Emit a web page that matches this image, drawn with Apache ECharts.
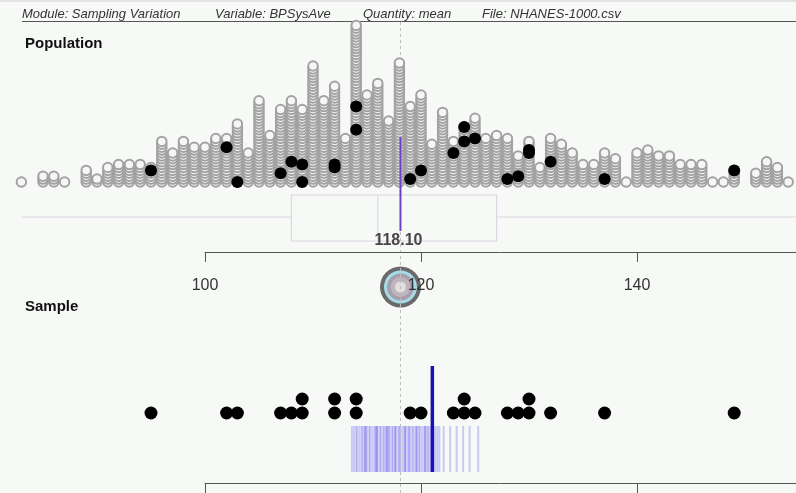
<!DOCTYPE html>
<html><head><meta charset="utf-8">
<script src="https://cdn.jsdelivr.net/npm/echarts@6/dist/echarts.min.js"></script>
<style>html,body{margin:0;padding:0;background:#f7f9f7;}#c{width:796px;height:493px;}</style>
</head><body><div id="c"></div>
<script>
// ---------- data ----------
const popValues = [83,84,85,86,87,88,89,90,91,92,93,94,95,96,97,98,99,100,101,102,103,104,105,106,107,108,109,110,111,112,113,114,115,116,117,118,119,120,121,122,123,124,125,126,127,128,129,130,131,132,133,134,135,136,137,138,139,140,141,142,143,144,145,146,147,148,149,150,151,152,153,154];
const popCounts = [1,0,3,3,1,0,5,2,6,7,7,7,6,15,11,15,13,13,16,16,21,11,29,17,26,29,26,41,29,34,16,55,31,35,22,42,27,31,14,25,15,20,23,16,17,16,10,15,6,16,14,11,7,7,11,9,1,11,12,10,10,7,7,7,1,1,5,0,4,8,6,1];
// sampled members in the population: [value, position in its column]
const sampledMembers = [[95,4],[102,12],[103,0],[107,3],[108,7],[109,6],[109,0],[112,5],[112,6],[114,26],[114,18],[119,1],[120,4],[123,10],[124,19],[124,14],[125,15],[128,1],[129,2],[130,10],[130,11],[132,7],[137,1],[149,4]];
const sampleValues = [95,102,103,107,108,109,109,112,112,114,114,119,120,123,124,124,125,128,129,130,130,132,137,149];
const popMean = 118.10;
const popBox = [83,108,116,127,156]; // min, Q1, median, Q3, max
const sampleMean = 121.05;
const pastSampleMeans = [113.6,113.8,114.0,114.1,114.3,114.5,114.6,114.8,114.8,114.9,115.0,115.2,115.3,115.5,115.7,115.8,115.9,115.9,116.0,116.2,116.3,116.5,116.6,116.8,116.8,116.9,117.0,117.1,117.3,117.4,117.6,117.6,117.7,117.9,118.0,118.1,118.3,118.5,118.5,118.6,118.8,118.9,119.0,119.2,119.3,119.5,119.6,119.6,119.8,119.9,120.1,120.3,120.4,120.4,120.6,120.7,120.9,121.1,121.1,121.3,121.5,121.7,122.1,122.7,123.3,123.9,124.5,125.3];
const axisTicks = [100,120,140];
const headerItems = ['Module: Sampling Variation','Variable: BPSysAve','Quantity: mean','File: NHANES-1000.csv'];

// ---------- build ----------
const FONT = '"Liberation Sans", Arial, sans-serif';
const popPoints = [];
popValues.forEach((v, i) => { for (let k = 0; k < popCounts[i]; k++) popPoints.push([v, k]); });
const seen = {};
const samplePoints = sampleValues.map(v => { seen[v] = (seen[v] || 0); const r = seen[v]; seen[v]++; return [v, r]; });

const L = 10.6, R = 7.8, XMIN = 82, XMAX = 154;
const hiddenX = (g) => ({type:'value', gridIndex:g, min:XMIN, max:XMAX, show:false});
const hiddenY = (g, mn, mx, inv) => ({type:'value', gridIndex:g, min:mn, max:mx, show:false, inverse: !!inv});
const shownX = (g) => ({type:'value', gridIndex:g, min:100, max:100 + 591/10.8, interval:20, z:10,
  axisLine:{show:true, lineStyle:{color:'#555', width:1}},
  axisTick:{show:true, length:10, inside:false, customValues:axisTicks, lineStyle:{color:'#555', width:1}},
  axisLabel:{show:true, margin:26, fontSize:16, color:'#333', fontFamily:FONT, customValues:axisTicks},
  splitLine:{show:false}});

const chart = echarts.init(document.getElementById('c'), null, {renderer:'canvas', width:796, height:493});

function lineAt(api, v, y1, y2) {
  const a = api.coord([v, y1]), b = api.coord([v, y2]);
  return {x1:a[0], y1:a[1], x2:b[0], y2:b[1]};
}

chart.setOption({
  backgroundColor:'#f7f9f7',
  animation:false,
  grid:[
    {left:L, right:R, top:8, height:174, outerBoundsMode:'none'},       // 0 population stacks
    {left:L, right:R, top:0, height:493, outerBoundsMode:'none'},       // 1 overlay (pixel y)
    {left:205, right:0, top:240, height:12, outerBoundsMode:'none'},    // 2 population axis
    {left:205, right:0, top:470, height:13, outerBoundsMode:'none'},    // 3 sample axis
    {left:L, right:R, top:357, height:56, outerBoundsMode:'none'}       // 4 sample dots
  ],
  xAxis:[hiddenX(0), hiddenX(1), shownX(2), shownX(3), hiddenX(4)],
  yAxis:[hiddenY(0,0,60), hiddenY(1,0,493,true), hiddenY(2,0,1), hiddenY(3,0,1), hiddenY(4,0,4)],
  graphic:[
    {type:'rect', left:0, top:0, shape:{width:796, height:2}, style:{fill:'#e4e4e4'}},
    ...headerItems.map((t, i) => ({type:'text', x:[22,215,363,482][i], y:14,
      style:{text:t, font:'italic 13px ' + FONT, fill:'#333', verticalAlign:'middle'}})),
    {type:'line', shape:{x1:22, y1:21.5, x2:796, y2:21.5}, style:{stroke:'#555', lineWidth:1}},
    {type:'text', x:25, y:44, style:{text:'Population', font:'bold 15px ' + FONT, fill:'#111', verticalAlign:'middle'}},
    {type:'text', x:25, y:307, style:{text:'Sample', font:'bold 15px ' + FONT, fill:'#111', verticalAlign:'middle'}}
  ],
  series:[
    // dashed reference line at population mean
    {type:'custom', xAxisIndex:1, yAxisIndex:1, clip:false, z:3, data:[[popMean,0]],
      renderItem:(p, api) => ({type:'line', shape:lineAt(api, api.value(0), 22, 493),
        style:{stroke:'#bdbdbd', lineWidth:1, lineDash:[3,3]}})},
    // population dots
    {type:'scatter', xAxisIndex:0, yAxisIndex:0, z:4, data:popPoints, symbol:'circle', symbolSize:9.5,
      itemStyle:{color:'#f6f6f6', borderColor:'#a2a2a2', borderWidth:2, opacity:1}, large:false, clip:false},
    // sampled members
    {type:'scatter', xAxisIndex:0, yAxisIndex:0, z:5, data:sampledMembers, symbol:'circle', symbolSize:12,
      itemStyle:{color:'#000', opacity:1}, clip:false},
    // box plot
    {type:'custom', xAxisIndex:1, yAxisIndex:1, clip:false, z:2, data:[popBox],
      renderItem:(p, api) => {
        const st = {stroke:'#ddd6e2', lineWidth:1.2, fill:null};
        const q1 = api.coord([api.value(1), 195]), q3 = api.coord([api.value(3), 241]);
        return {type:'group', children:[
          {type:'line', shape:{x1:api.coord([api.value(0),217])[0], y1:217, x2:q1[0], y2:217}, style:st},
          {type:'line', shape:{x1:q3[0], y1:217, x2:api.coord([api.value(4),217])[0], y2:217}, style:st},
          {type:'rect', shape:{x:q1[0], y:q1[1], width:q3[0]-q1[0], height:q3[1]-q1[1]}, style:st},
          {type:'line', shape:lineAt(api, api.value(2), 195, 241), style:st}
        ]};
      }},
    // population mean line + label
    {type:'custom', xAxisIndex:1, yAxisIndex:1, clip:false, z:6, data:[[popMean,0]],
      renderItem:(p, api) => {
        const x = api.coord([api.value(0), 241]);
        return {type:'group', children:[
          {type:'line', shape:lineAt(api, api.value(0), 137, 231), style:{stroke:'#6a44c8', lineWidth:2}},
          {type:'text', style:{text:api.value(0).toFixed(2), x:x[0]-2, y:x[1], align:'center', verticalAlign:'middle',
            font:'bold 16px ' + FONT, fill:'#4a4548'}}
        ]};
      }},
    // target marker at population mean
    {type:'custom', xAxisIndex:1, yAxisIndex:1, clip:false, z:1, data:[[popMean,0]],
      renderItem:(p, api) => {
        const c = api.coord([api.value(0), 287]);
        const circ = (r, f) => ({type:'circle', shape:{cx:c[0], cy:c[1], r:r}, style:{fill:f}});
        return {type:'group', children:[circ(20.5,'#6a6a6a'), circ(16.5,'#a6dbe8'), circ(13.5,'#a89ea9'),
          circ(10,'#bfb5bf'), circ(5.5,'#e2dedf')]};
      }},
    // past sample means
    {type:'custom', xAxisIndex:1, yAxisIndex:1, clip:false, z:2, data:pastSampleMeans.map(v => [v,0]),
      renderItem:(p, api) => ({type:'line', shape:lineAt(api, api.value(0), 426, 472),
        style:{stroke:'rgba(100,90,240,0.3)', lineWidth:2}})},
    // current sample mean
    {type:'custom', xAxisIndex:1, yAxisIndex:1, clip:false, z:6, data:[[sampleMean,0]],
      renderItem:(p, api) => ({type:'line', shape:lineAt(api, api.value(0), 366, 472),
        style:{stroke:'#1a10b8', lineWidth:3.5}})},
    // sample dots
    {type:'scatter', xAxisIndex:4, yAxisIndex:4, z:5, data:samplePoints, symbol:'circle', symbolSize:13,
      itemStyle:{color:'#000', opacity:1}, clip:false}
  ]
});
</script></body></html>
